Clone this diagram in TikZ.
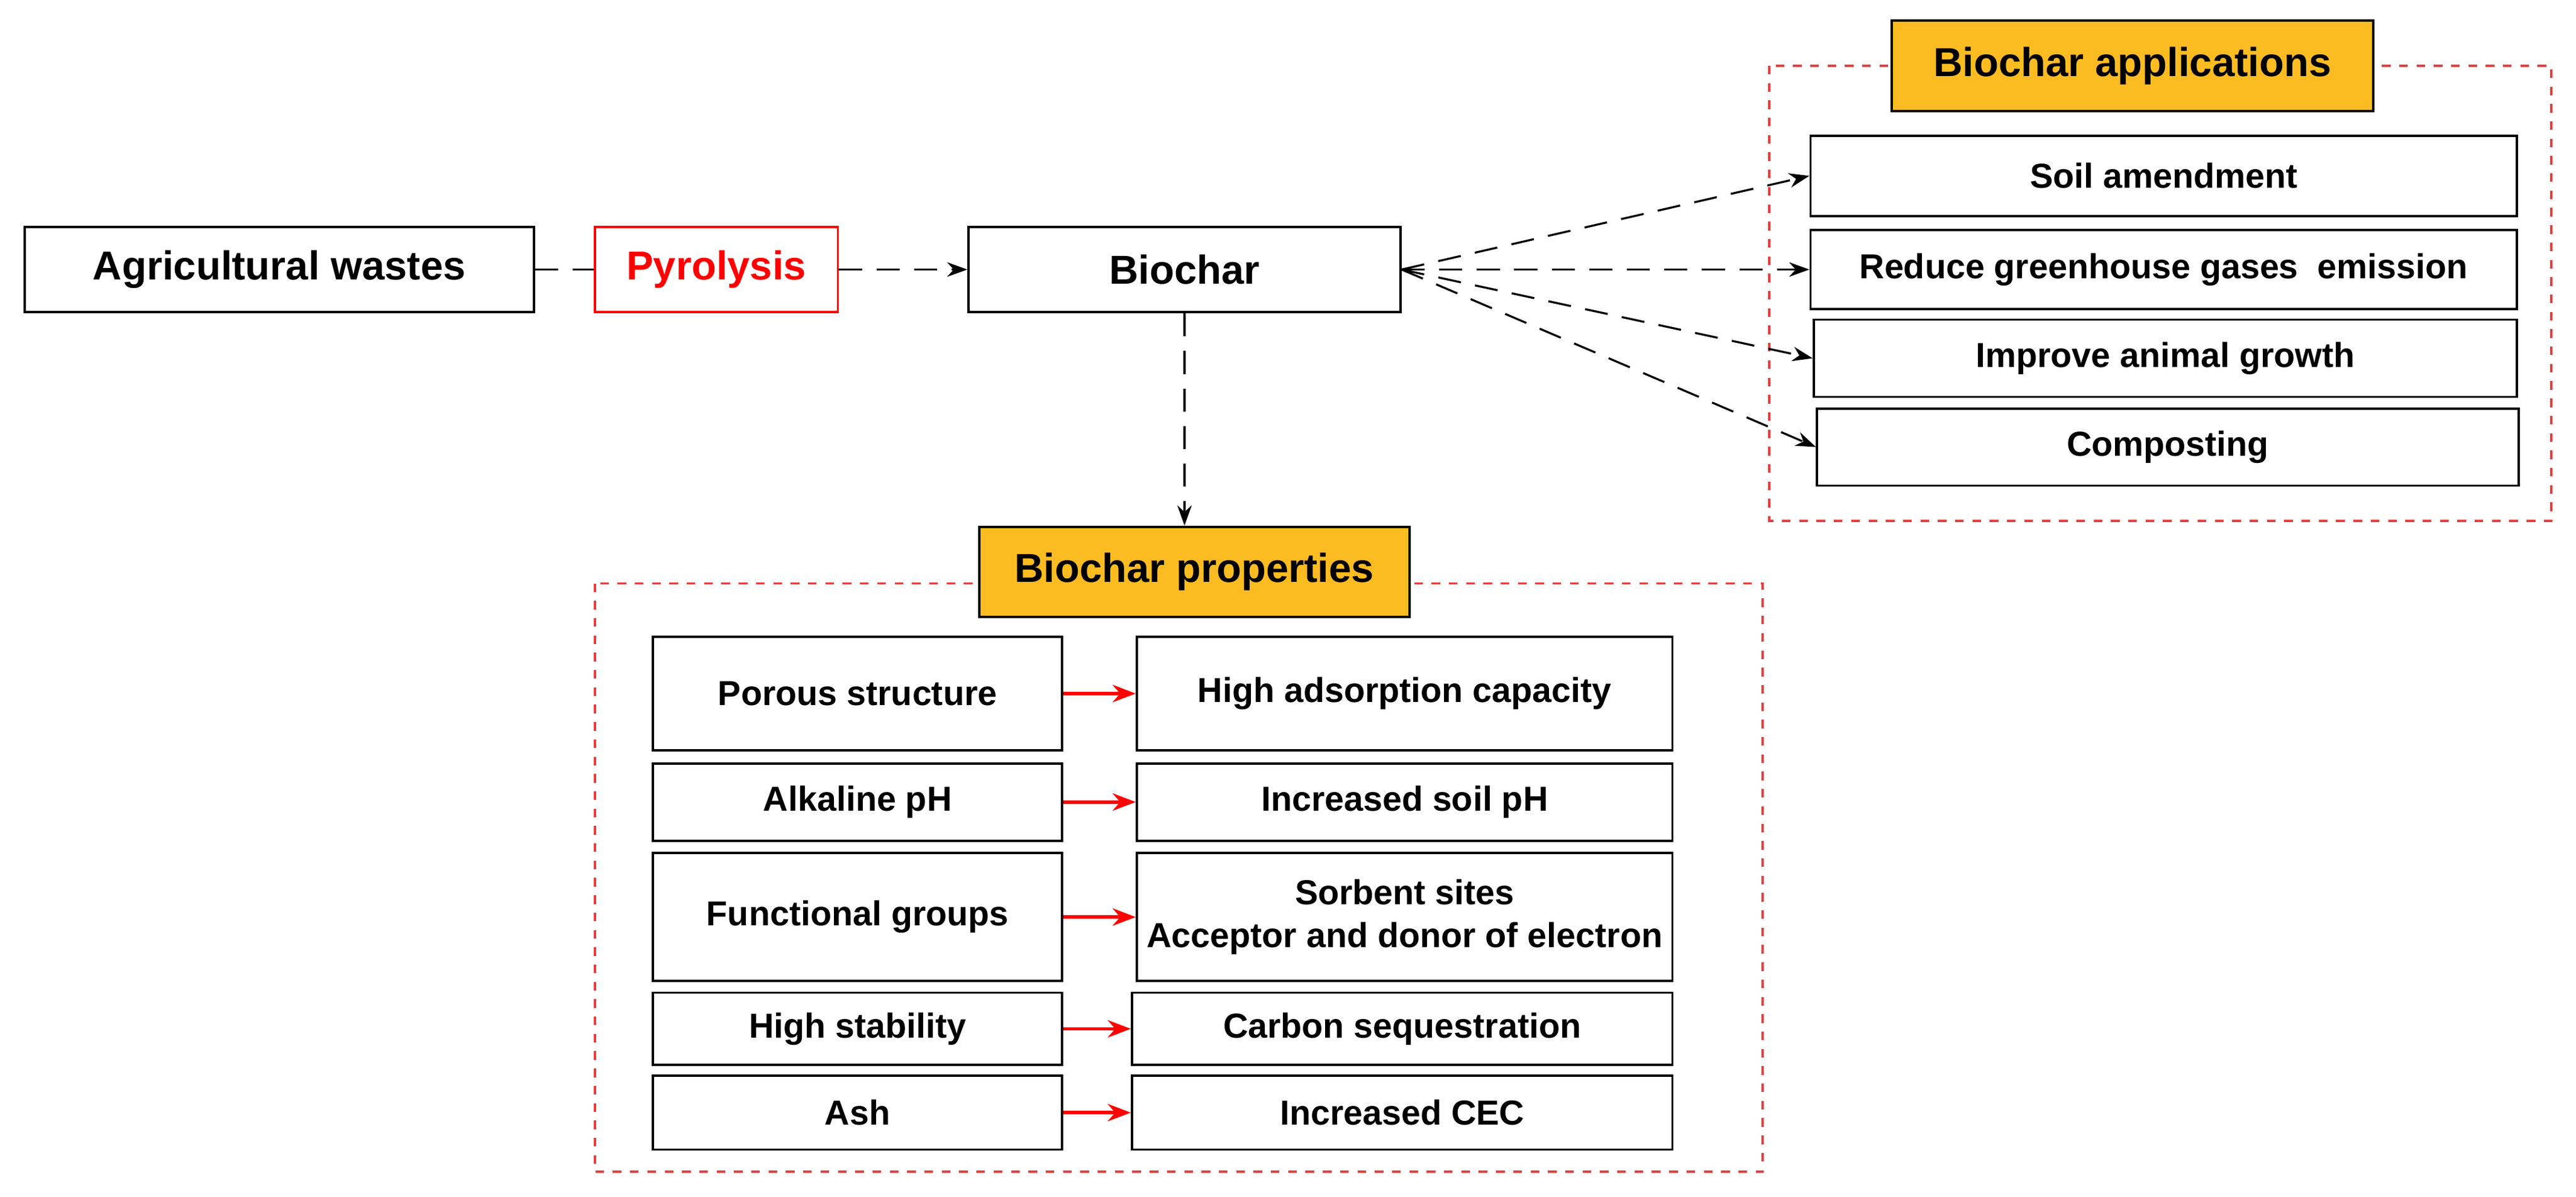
\documentclass[tikz,border=0pt]{standalone}
\usepackage{fontspec}
\setmainfont{Liberation Sans}
\usetikzlibrary{arrows.meta}
\definecolor{titleorange}{RGB}{251,188,34}
\definecolor{framered}{RGB}{235,60,60}
\tikzset{
  box/.style={rectangle, draw=black, line width=0.8pt, fill=white, inner sep=0pt, align=center, font=\bfseries\fontsize{12}{15}\selectfont},
  bigbox/.style={box, minimum height=1.04cm, font=\bfseries\fontsize{14}{17}\selectfont},
  title/.style={box, fill=titleorange, minimum height=1.1cm, font=\bfseries\fontsize{14}{17}\selectfont},
  frame/.style={draw=framered, dashed, line width=0.8pt},
  dasharrow/.style={dash pattern=on 8pt off 5pt, line width=0.7pt, -{Stealth[length=7pt,width=5pt]}},
  redarrow/.style={draw=red, line width=1.2pt, -{Stealth[length=8pt,width=6pt]}}
}
\begin{document}
\begin{tikzpicture}[x=0.02cm, y=-0.02cm]
\useasboundingbox (0,0) rectangle (1568,728);

% frames
\draw [frame] (1077,40) rectangle (1553,317);
\draw [frame] (362,355) rectangle (1073,713);

% main chain
\node (agri) [bigbox, minimum width=6.2cm] at (170,164) {Agricultural wastes};
\node (pyro) [bigbox, draw=red, text=red, minimum width=2.96cm] at (436,164) {Pyrolysis};
\node (biochar) [bigbox, minimum width=5.26cm] at (721,164) {Biochar};

% applications
\node (apptitle) [title, minimum width=5.86cm] at (1298,40) {Biochar applications};
\node (soil) [box, minimum width=8.6cm, minimum height=0.98cm] at (1317,107) {Soil amendment};
\node (ghg) [box, minimum width=8.6cm, minimum height=0.96cm] at (1317,164) {Reduce greenhouse gases\ \ emission};
\node (animal) [box, minimum width=8.56cm, minimum height=0.94cm] at (1318,218) {Improve animal growth};
\node (compost) [box, minimum width=8.54cm, minimum height=0.94cm] at (1319.5,272) {Composting};

% properties
\node (proptitle) [title, minimum width=5.24cm] at (727,348) {Biochar properties};
\node (porous) [box, minimum width=4.98cm, minimum height=1.38cm] at (522,422) {Porous structure};
\node (alkaline) [box, minimum width=4.98cm, minimum height=0.94cm] at (522,488) {Alkaline pH};
\node (func) [box, minimum width=4.98cm, minimum height=1.56cm] at (522,558) {Functional groups};
\node (stab) [box, minimum width=4.98cm, minimum height=0.88cm] at (522,626) {High stability};
\node (ash) [box, minimum width=4.98cm, minimum height=0.9cm] at (522,677) {Ash};

\node (adsorp) [box, minimum width=6.52cm, minimum height=1.38cm] at (855,422) {High adsorption capacity};
\node (soilph) [box, minimum width=6.52cm, minimum height=0.94cm] at (855,488) {Increased soil pH};
\node (sorbent) [box, minimum width=6.52cm, minimum height=1.56cm] at (855,558) {Sorbent sites\\Acceptor and donor of electron};
\node (carbon) [box, minimum width=6.58cm, minimum height=0.88cm] at (853.5,626) {Carbon sequestration};
\node (cec) [box, minimum width=6.58cm, minimum height=0.9cm] at (853.5,677) {Increased CEC};

% connectors
\draw [dasharrow, -] (agri) -- (pyro);
\draw [dasharrow] (pyro) -- (biochar);
\draw [dasharrow] (biochar.south) -- (biochar.south |- proptitle.north);
\foreach \n in {soil, ghg, animal, compost}
  \draw [dasharrow] (biochar.east) -- (\n.west);
\foreach \a/\b in {porous/adsorp, alkaline/soilph, func/sorbent, stab/carbon, ash/cec}
  \draw [redarrow] (\a) -- (\b);

\end{tikzpicture}
\end{document}
